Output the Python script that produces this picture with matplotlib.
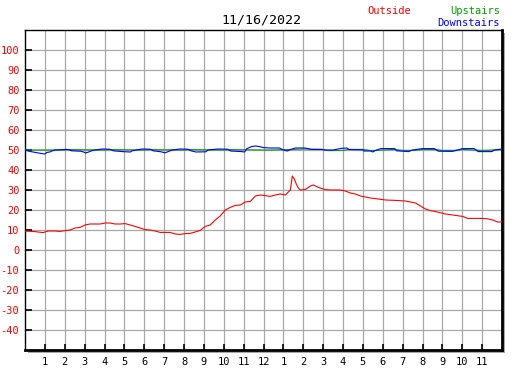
import matplotlib
matplotlib.use("Agg")
import matplotlib.pyplot as plt
from matplotlib.patches import Rectangle

TITLE = "11/16/2022"
HOUR_TICKS = list(range(1, 24))
HOUR_LABELS = [str(h) for h in range(1, 13)] + [str(h) for h in range(1, 12)]
TEMP_TICKS = list(range(-40, 101, 10))

# outside temperature
OUT_H = [0, 0.50, 0.91, 1.16, 1.51, 1.76, 2.02, 2.27, 2.52, 2.77, 3.02, 3.27,
         3.78, 4.03, 4.28, 4.53, 4.79, 5.04, 5.29, 5.54, 5.79, 6.05, 6.30,
         6.55, 6.80, 7.30, 7.56, 7.81, 8.06, 8.31, 8.56, 8.82, 9.07, 9.32,
         9.57, 9.82, 10.08, 10.33, 10.58, 10.83, 11.08, 11.34, 11.59, 11.84,
         12.09, 12.34, 12.59, 12.85, 13.10, 13.25, 13.35, 13.45, 13.55, 13.65,
         13.75, 13.85, 14.11, 14.36, 14.51, 14.76, 15.11, 15.37, 15.87, 16.12,
         16.37, 16.62, 16.88, 17.13, 17.38, 17.78, 18.14, 18.64, 19.14, 19.40,
         19.65, 19.90, 20.15, 20.40, 20.75, 21.16, 21.66, 22.02, 22.27, 22.92,
         23.27, 23.53, 23.78, 23.93, 24.0]
OUT_T = [9.5, 9.2, 8.7, 9.5, 9.5, 9.3, 9.7, 10, 11, 11.3, 12.5, 13,
         13, 13.5, 13.5, 13, 13, 13.2, 12.5, 11.8, 11, 10.2, 10,
         9.5, 8.8, 8.8, 8, 7.8, 8.2, 8.3, 9, 9.8, 11.8, 12.5,
         15, 17, 20, 21.3, 22.3, 22.5, 24, 24.3, 27, 27.5,
         27.2, 26.8, 27.5, 28, 27.5, 29, 30, 37, 35.5, 33,
         31, 30, 30.3, 32, 32.5, 31.3, 30.2, 30, 30, 29.5,
         28.5, 28, 27, 26.5, 26, 25.5, 25, 24.8, 24.5, 24,
         23.5, 22, 20.5, 19.7, 19, 18, 17.3, 16.8, 15.8, 15.8,
         15.6, 15, 14, 14, 14.5]

# upstairs
UP_H = [0, 2.0, 2.2, 4.0, 4.3, 6.0, 6.3, 8.0, 8.3, 10.0, 10.3, 12.0, 12.4,
        13.5, 14.0, 14.9, 15.3, 16.0, 16.3, 17.0, 17.4, 18.0, 18.6, 19.0,
        19.6, 20.0, 20.6, 21.0, 21.6, 22.0, 22.6, 23.0, 23.6, 24.0]
UP_T = [50, 50, 50.2, 50, 50.2, 50, 50.2, 50, 50.2, 50, 50.2, 50, 50,
        50.3, 50.5, 50.3, 49.7, 49.8, 50.3, 50.3, 49.7, 50, 50.3, 49.8,
        49.8, 50.3, 50.3, 49.8, 49.8, 50.3, 50, 49.8, 50, 50.2]

# downstairs
DN_H = [0, 0.15, 0.4, 0.85, 1.0, 1.1, 1.25, 1.35, 1.5, 2.05, 2.2, 2.35, 2.8,
        2.95, 3.05, 3.2, 3.35, 3.5, 3.9, 4.25, 4.45, 4.9, 5.3, 5.4, 5.6, 5.9,
        6.3, 6.45, 6.85, 7.05, 7.2, 7.4, 7.8, 8.2, 8.35, 8.6, 9.1, 9.2, 9.7,
        10.2, 10.35, 10.9, 11.05, 11.15, 11.4, 11.6, 11.8, 12.0, 12.3, 12.8,
        13.0, 13.2, 13.35, 13.6, 14.1, 14.4, 14.95, 15.1, 15.5, 15.9, 16.2,
        16.3, 17.0, 17.05, 17.4, 17.5, 17.6, 17.9, 18.6, 18.7, 19.3, 19.5,
        20.0, 20.6, 20.8, 21.5, 21.8, 22.0, 22.6, 22.8, 23.5, 23.6, 24.0]
DN_T = [50, 49.5, 49, 48.2, 48, 48.8, 49, 49.5, 50, 50.3, 50.2, 49.6, 49.4,
        49, 48.5, 49, 49.6, 50, 50.5, 50.4, 49.6, 49.2, 49, 49.6, 50, 50.5,
        50.4, 49.6, 49.1, 48.6, 49.2, 50, 50.5, 50.4, 49.6, 49.0, 49.1, 50, 50.5,
        50.4, 49.5, 49.2, 49, 50.6, 51.7, 52, 51.7, 51.2, 51, 51,
        50, 49.5, 50.2, 51, 51, 50.3, 50.3, 50, 50, 50.8, 51,
        50.2, 50.1, 49.5, 49.5, 49, 49.6, 50.7, 50.7, 49.6, 49.2, 50,
        50.7, 50.7, 49.4, 49.3, 50, 50.7, 50.7, 49.2, 49.2, 50, 50.5]

RED = "#ff0000"
GREEN = "#00a000"
BLUE = "#0000ff"
GRID = "#a8a8a8"
MONO = "DejaVu Sans Mono"

W, H = 527, 370
fig = plt.figure(figsize=(W / 100, H / 100), dpi=100)
fig.patch.set_facecolor("white")

L, R, T, B = 25, 502, 30, 350
ax = fig.add_axes([L / W, 1 - B / H, (R - L) / W, (B - T) / H])
ax.set_zorder(2)

# drop shadow behind the plot frame
fig.patches.append(Rectangle(((L + 3) / W, 1 - (B + 3) / H), (R - L) / W, (B - T) / H,
                             transform=fig.transFigure, facecolor=GRID,
                             edgecolor="none", zorder=0))

ax.plot(OUT_H, OUT_T, color=RED, lw=0.8, zorder=3)
ax.plot(UP_H, UP_T, color=GREEN, lw=0.8, zorder=4)
ax.plot(DN_H, DN_T, color=BLUE, lw=0.8, zorder=5)

ax.set_xlim(0, 24)
ax.set_ylim(-50, 110)
ax.set_xticks(HOUR_TICKS)
ax.set_xticklabels(HOUR_LABELS, fontfamily=MONO, fontsize=7.5)
ax.set_yticks(TEMP_TICKS)
ax.set_yticklabels([str(t) for t in TEMP_TICKS], fontfamily=MONO, fontsize=7.5,
                   color=RED)
ax.tick_params(axis="y", direction="in", length=5, width=1.2, pad=4)
ax.tick_params(axis="x", direction="in", length=4, width=1.2, pad=5)

# grid every hour and every 10 degrees
for h in HOUR_TICKS:
    ax.axvline(h, color=GRID, lw=0.9, zorder=1)
for t in TEMP_TICKS:
    ax.axhline(t, color=GRID, lw=0.9, zorder=1)

for side in ("top", "left"):
    ax.spines[side].set_linewidth(1.0)
for side in ("bottom", "right"):
    ax.spines[side].set_linewidth(2.0)

fig.text(261 / W, 1 - 20 / H, TITLE, ha="center", va="center",
         fontfamily=MONO, fontsize=9.5)
fig.text(411 / W, 1 - 11 / H, "Outside", ha="right", va="center",
         fontfamily=MONO, fontsize=7.5, color=RED)
fig.text(500 / W, 1 - 11 / H, "Upstairs", ha="right", va="center",
         fontfamily=MONO, fontsize=7.5, color=GREEN)
fig.text(500 / W, 1 - 23 / H, "Downstairs", ha="right", va="center",
         fontfamily=MONO, fontsize=7.5, color=BLUE)

fig.savefig("out.png", dpi=100)
